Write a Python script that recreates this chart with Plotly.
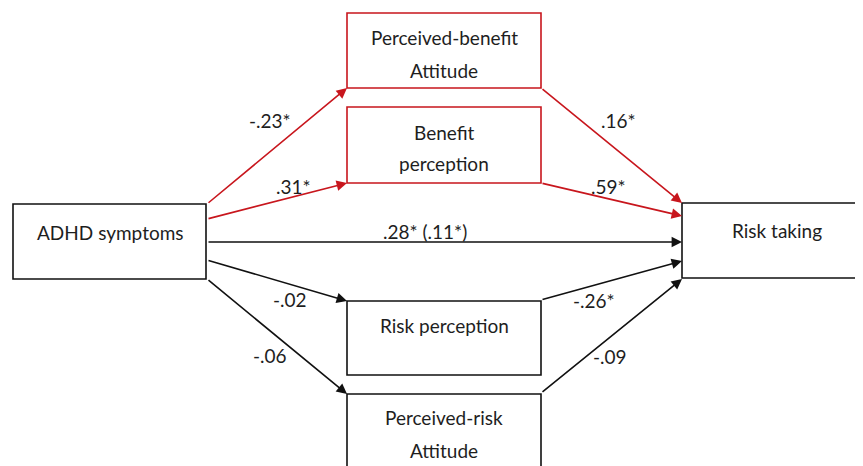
import plotly.graph_objects as go

# ---- data (text content) ----
node_names = ["ADHD symptoms", "Perceived-benefit<br>Attitude", "Benefit<br>perception",
              "Risk perception", "Perceived-risk<br>Attitude", "Risk taking"]
path_labels = ["-.23*", ".31*", ".28* (.11*)", "-.02", "-.06",
               ".16*", ".59*", "-.26*", "-.09"]
path_significant_red = [True, True, False, False, False, True, True, False, False]

# ---- layout geometry (pixels) ----
W, H = 863, 466
OFF = 8  # page body margin
RED = "#c8161d"
BLACK = "#111111"
TXT = "#1e1e1e"

# boxes: x0, y0, x1, y1, color
boxes = [
    (13, 204, 206, 279, BLACK),
    (347, 13, 541, 88, RED),
    (347, 107, 541, 183, RED),
    (347, 301, 541, 375, BLACK),
    (347, 394, 541, 480, BLACK),
    (682, 203, 880, 278, BLACK),
]
text_pos = [
    (110, [232]),
    (444, [37, 70]),
    (444, [132, 163]),
    (444, [325]),
    (444, [417, 450]),
    (777, [230]),
]
# arrows: tail (x, y) -> head (x, y)
arrows = [
    ((207, 204), (347, 88)),
    ((207, 219), (347, 183)),
    ((207, 242), (682, 242)),
    ((207, 260), (347, 301)),
    ((207, 279), (347, 394)),
    ((541, 88), (682, 203)),
    ((541, 183), (682, 216)),
    ((541, 300), (682, 261)),
    ((541, 393), (682, 279)),
]
label_pos = [
    (270, 120), (293, 186), (425, 231), (290, 299), (270, 355),
    (618, 120), (608, 186), (594, 300), (610, 356),
]

fig = go.Figure()
fig.add_trace(go.Scatter(x=[OFF, W], y=[OFF, H], mode="markers",
                         marker=dict(opacity=0), hoverinfo="skip", showlegend=False))

shapes = []
for (x0, y0, x1, y1, c) in boxes:
    shapes.append(dict(type="rect", xref="x", yref="y", x0=x0, y0=y0, x1=x1, y1=y1,
                       line=dict(color=c, width=1.6), fillcolor="white", layer="above"))

annotations = []
FONT = "Lato, 'Open Sans', sans-serif"
FS = 19
for name, (tx, tys) in zip(node_names, text_pos):
    for line, ty in zip(name.split("<br>"), tys):
        annotations.append(dict(x=tx, y=ty, xref="x", yref="y", text=line, showarrow=False,
                                font=dict(family=FONT, size=FS, color=TXT),
                                xanchor="center", yanchor="middle"))

for ((tx0, ty0), (hx, hy)), red in zip(arrows, path_significant_red):
    c = RED if red else BLACK
    annotations.append(dict(x=hx, y=hy, ax=tx0, ay=ty0, xref="x", yref="y",
                            axref="x", ayref="y", text="", showarrow=True,
                            arrowhead=2, arrowsize=1.3, arrowwidth=1.6, arrowcolor=c,
                            standoff=0, startstandoff=0))

for lab, (lx, ly) in zip(path_labels, label_pos):
    annotations.append(dict(x=lx, y=ly, xref="x", yref="y", text=lab, showarrow=False,
                            font=dict(family=FONT, size=FS, color=TXT),
                            xanchor="center", yanchor="middle"))

fig.update_layout(
    width=W - OFF, height=H - OFF, margin=dict(l=0, r=0, t=0, b=0),
    paper_bgcolor="white", plot_bgcolor="white",
    xaxis=dict(range=[OFF, W], visible=False, fixedrange=True),
    yaxis=dict(range=[H, OFF], visible=False, fixedrange=True),
    shapes=shapes, annotations=annotations, showlegend=False,
)
fig.write_html("out.html")
